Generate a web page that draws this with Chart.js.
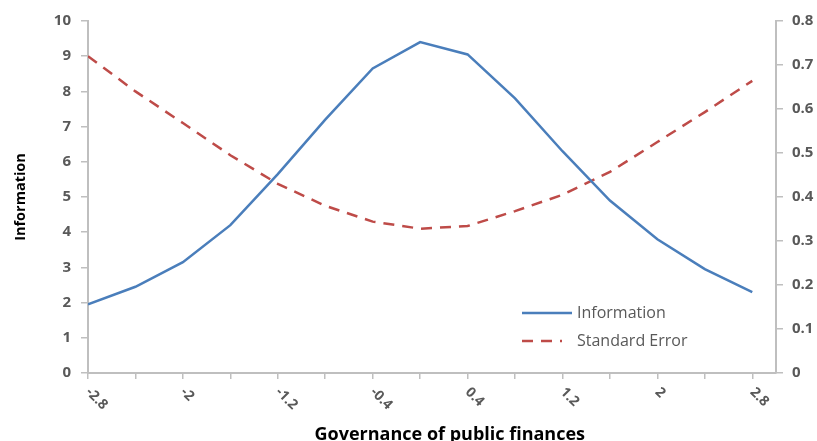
<!DOCTYPE html>
<html>
<head>
<meta charset="utf-8">
<script src="https://cdn.jsdelivr.net/npm/chart.js@4"></script>
<style>
  html, body { margin: 0; padding: 0; background: #fff; }
  #wrap { width: 817px; height: 441px; }
</style>
</head>
<body>
<div id="wrap"><canvas id="c" width="817" height="441"></canvas></div>
<script>
// Governance of public finances (latent trait) grid
const governance = [-2.8, -2.4, -2.0, -1.6, -1.2, -0.8, -0.4, 0, 0.4, 0.8, 1.2, 1.6, 2.0, 2.4, 2.8];
// Test information function (left axis)
const information = [1.95, 2.45, 3.15, 4.2, 5.65, 7.2, 8.65, 9.4, 9.05, 7.8, 6.3, 4.9, 3.8, 2.95, 2.3];
// Standard error of measurement (right axis)
const standardError = [0.72, 0.64, 0.568, 0.495, 0.43, 0.38, 0.344, 0.328, 0.334, 0.368, 0.405, 0.457, 0.525, 0.593, 0.664];
// Labelled positions on the horizontal axis
const xTickLabels = ['-2.8', '-2', '-1.2', '-0.4', '0.4', '1.2', '2', '2.8'];
const xTitle = 'Governance of public finances';

const BLUE = '#4a7ebb';
const RED = '#be4b48';
const AXIS = '#bfbfbf';
const TICK_TEXT = '#595959';
const DASH = [11, 8];
const FONT = 'Open Sans';

// Rotated labels under the horizontal axis, plus the axis title
const xLabelPlugin = {
  id: 'xLabels',
  afterDraw(chart) {
    const ctx = chart.ctx;
    const xs = chart.scales.x;
    ctx.save();
    ctx.font = 'bold 14px "' + FONT + '"';
    ctx.fillStyle = TICK_TEXT;
    ctx.textAlign = 'left';
    ctx.textBaseline = 'middle';
    xTickLabels.forEach(lbl => {
      const px = xs.getPixelForValue(Number(lbl));
      ctx.save();
      ctx.translate(px, xs.top + 17);
      ctx.rotate(Math.PI / 4);
      ctx.fillText(lbl, 0, 0);
      ctx.restore();
    });
    ctx.font = 'bold 18px "' + FONT + '"';
    ctx.fillStyle = '#000';
    ctx.textAlign = 'center';
    ctx.textBaseline = 'alphabetic';
    ctx.fillText(xTitle, xs.getPixelForValue(0.25), xs.top + 67);
    ctx.restore();
  }
};

// Legend drawn inside the plot area, lower right
const innerLegend = {
  id: 'innerLegend',
  afterDatasetsDraw(chart) {
    const ctx = chart.ctx;
    const a = chart.chartArea;
    const x0 = a.right - 254, x1 = a.right - 204, tx = a.right - 199;
    const y0 = a.bottom - 60, y1 = a.bottom - 32;
    ctx.save();
    ctx.lineWidth = 2.5;
    ctx.strokeStyle = BLUE;
    ctx.beginPath(); ctx.moveTo(x0, y0); ctx.lineTo(x1, y0); ctx.stroke();
    ctx.strokeStyle = RED;
    ctx.setLineDash(DASH);
    ctx.beginPath(); ctx.moveTo(x0, y1); ctx.lineTo(x1 - 10, y1); ctx.stroke();
    ctx.setLineDash([]);
    ctx.font = '16px "' + FONT + '"';
    ctx.fillStyle = TICK_TEXT;
    ctx.textAlign = 'left';
    ctx.textBaseline = 'middle';
    ctx.fillText(chart.data.datasets[0].label, tx, y0);
    ctx.fillText(chart.data.datasets[1].label, tx, y1);
    ctx.restore();
  }
};

new Chart(document.getElementById('c'), {
  type: 'line',
  data: {
    datasets: [
      {
        label: 'Information',
        data: governance.map((g, i) => ({ x: g, y: information[i] })),
        yAxisID: 'y',
        borderColor: BLUE,
        borderWidth: 2.5,
        pointRadius: 0,
        tension: 0,
        fill: false
      },
      {
        label: 'Standard Error',
        data: governance.map((g, i) => ({ x: g, y: standardError[i] })),
        yAxisID: 'y1',
        borderColor: RED,
        borderWidth: 2.5,
        borderDash: DASH,
        pointRadius: 0,
        tension: 0,
        fill: false
      }
    ]
  },
  options: {
    responsive: false,
    animation: false,
    layout: { padding: { top: 21, left: 0, right: 0, bottom: 0 } },
    plugins: { legend: { display: false }, tooltip: { enabled: false } },
    scales: {
      x: {
        type: 'linear',
        min: -2.8,
        max: 3.0,
        afterBuildTicks(scale) { scale.ticks = governance.map(v => ({ value: v })); },
        afterFit(scale) { scale.height = 68; },
        ticks: { display: false },
        grid: { drawOnChartArea: false, drawTicks: true, tickLength: 6, color: AXIS, lineWidth: 1.5 },
        border: { color: AXIS, width: 2 }
      },
      y: {
        position: 'left',
        min: 0,
        max: 10,
        afterFit(scale) { scale.width = 88; },
        ticks: { stepSize: 1, font: { family: FONT, size: 15, weight: 'bold' }, color: TICK_TEXT, padding: 10 },
        grid: { drawOnChartArea: false, tickLength: 7, color: AXIS, lineWidth: 1.5 },
        border: { color: AXIS, width: 2 },
        title: {
          display: true,
          text: 'Information',
          font: { family: FONT, size: 14.5, weight: 'bold' },
          color: '#000',
          padding: { top: 12, bottom: 0 }
        }
      },
      y1: {
        position: 'right',
        min: 0,
        max: 0.8,
        afterFit(scale) { scale.width = 41; },
        ticks: {
          stepSize: 0.1,
          font: { family: FONT, size: 15, weight: 'bold' },
          color: TICK_TEXT,
          padding: 9,
          callback: v => (v === 0 ? '0' : Number(v).toFixed(1))
        },
        grid: { drawOnChartArea: false, tickLength: 7, color: AXIS, lineWidth: 1.5 },
        border: { color: AXIS, width: 2 }
      }
    }
  },
  plugins: [xLabelPlugin, innerLegend]
});
</script>
</body>
</html>
